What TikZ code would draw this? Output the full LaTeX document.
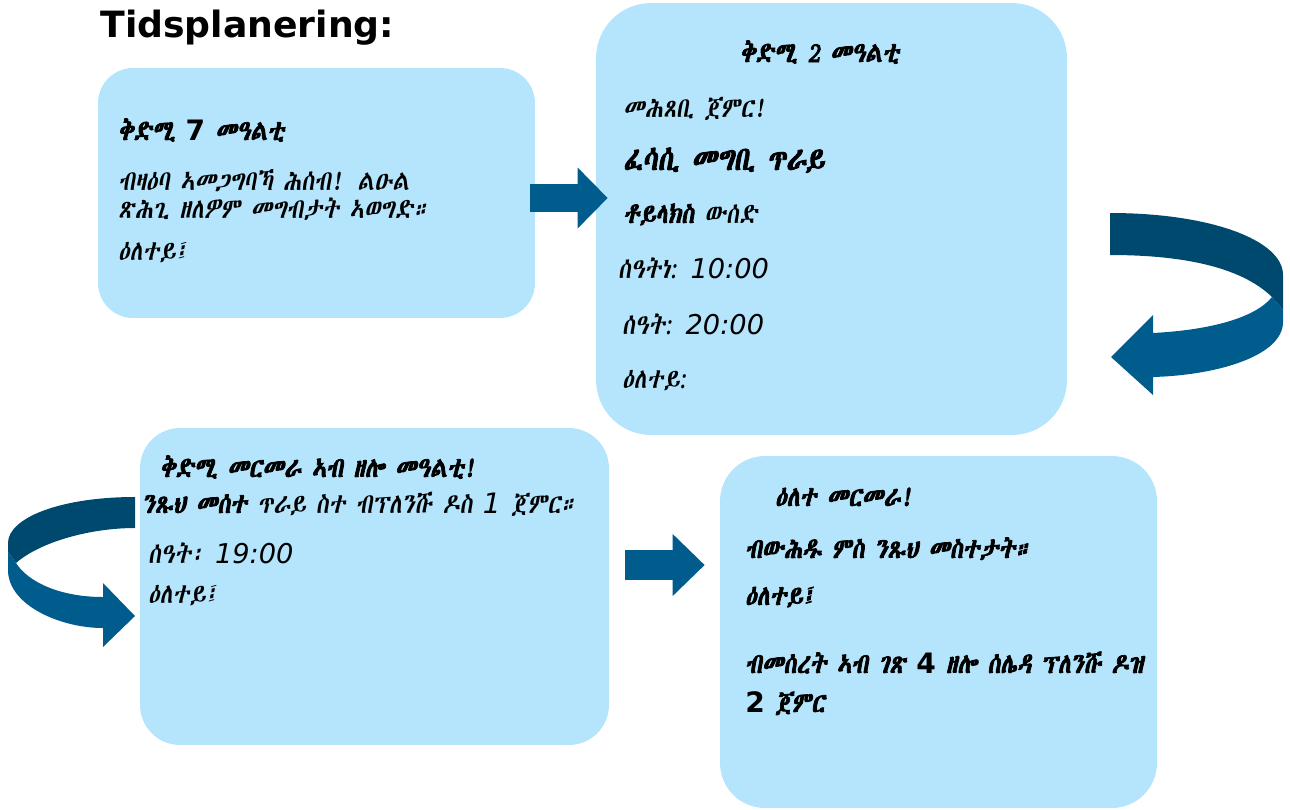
\documentclass[tikz,border=0pt]{standalone}
\usepackage{fontspec}
\usepackage{tikz}
\usetikzlibrary{positioning,calc,arrows.meta}
\setmainfont{DejaVu Sans}
\newfontfamily\vfont{DejaVu Sans}
\IfFontExistsTF{Abyssinica SIL}{%
  \newfontfamily\eth[FakeSlant=0.15, FakeStretch=0.82, BoldFont=*, BoldFeatures={FakeBold=2.5}]{Abyssinica SIL}}{%
  \newfontfamily\eth[FakeSlant=0.15, FakeStretch=0.82, BoldFont=*, BoldFeatures={FakeBold=2.5}]{FreeSerif}}
\definecolor{boxblue}{RGB}{180,229,252}
\definecolor{arrowfront}{RGB}{0,92,140}
\definecolor{arrowback}{RGB}{0,73,110}
\newcommand{\dig}[1]{{\vfont\itshape #1}}
\newcommand{\bdig}[1]{{\vfont\bfseries #1}}

\begin{document}
\begin{tikzpicture}[x=0.02cm, y=-0.02cm,
    box/.style={draw=none, fill=boxblue, rectangle, inner sep=0pt},
    txt/.style={anchor=base west, inner sep=0pt, font=\eth\fontsize{16}{18}\selectfont},
    btxt/.style={txt, font=\eth\bfseries\fontsize{16}{18}\selectfont},
    fatarrow/.style={draw=arrowfront, line width=0.56cm, -{Triangle[length=0.6cm,width=1.18cm]}}
]
    \useasboundingbox (0,0) rectangle (1290,809);

    % Title
    \node [anchor=base west, inner sep=0pt, font=\vfont\bfseries\fontsize{20.6}{24}\selectfont] (title) at (100,37) {Tidsplanering:};

    % Boxes
    \node [box, minimum width=8.74cm, minimum height=5cm, rounded corners=0.7cm] (b1) at (316.5,193) {};
    \node [box, minimum width=9.42cm, minimum height=8.64cm, rounded corners=1.1cm] (b2) at (831.5,219) {};
    \node [box, minimum width=9.38cm, minimum height=6.34cm, rounded corners=0.8cm] (b3) at (374.5,586.5) {};
    \node [box, minimum width=8.74cm, minimum height=7.04cm, rounded corners=0.9cm] (b4) at (938.5,632) {};

    % Box 1 text
    \node [btxt] (t1a) at (118,140) {ቅድሚ \bdig{7} መዓልቲ};
    \node [txt] (t1b) at (118,190) {ብዛዕባ ኣመጋግባኻ ሕሰብ! ልዑል};
    \node [txt] (t1c) at (118,218) {ጽሕጊ ዘለዎም መግብታት ኣወግድ።};
    \node [txt] (t1d) at (118,260) {ዕለተይ፤};

    % Box 2 text
    \node [btxt] (t2a) at (740,62) {ቅድሚ 2 መዓልቲ};
    \node [txt] (t2b) at (623,117) {መሕጸቢ ጀምር!};
    \node [btxt, font=\eth\bfseries\fontsize{19}{22}\selectfont] (t2c) at (623,170) {ፈሳሲ መግቢ ጥራይ};
    \node [txt] (t2d) at (623,223) {\textbf{ቶይላክስ} ውሰድ};
    \node [txt] (t2e) at (618,278) {ሰዓትነ: {\fontsize{15.5}{18}\selectfont\dig{10:00}}};
    \node [txt] (t2f) at (622,334) {ሰዓት: {\fontsize{15.5}{18}\selectfont\dig{20:00}}};
    \node [txt] (t2g) at (622,388) {ዕለተይ:};

    % Box 3 text
    \node [btxt] (t3a) at (160,477) {ቅድሚ መርመራ ኣብ ዘሎ መዓልቲ!};
    \node [txt] (t3b) at (142,513) {\textbf{ንጹህ መሰተ} ጥራይ ስተ ብፕለንሹ ዶስ \dig{1} ጀምር።};
    \node [txt] (t3c) at (148,563) {ሰዓት፡ {\fontsize{15.5}{18}\selectfont\dig{19:00}}};
    \node [txt] (t3d) at (148,603) {ዕለተይ፤};

    % Box 4 text
    \node [btxt] (t4a) at (775,506) {ዕለተ መርመራ!};
    \node [btxt] (t4b) at (745,558) {ብውሕዱ ምስ ንጹህ መስተታት።};
    \node [btxt] (t4c) at (745,605) {ዕለተይ፤};
    \node [btxt] (t4d) at (745,673) {ብመሰረት ኣብ ገጽ \bdig{4} ዘሎ ሰሌዳ ፕለንሹ ዶዝ};
    \node [btxt] (t4e) at (745,712) {\bdig{2} ጀምር};

    % Straight arrows
    \draw [fatarrow] ([shift={(-5,5)}]b1.east) -- ([shift={(12,-21)}]b2.west);
    \draw [fatarrow, line width=0.6cm, -{Triangle[length=0.64cm,width=1.2cm]}] ([shift={(16,-21.5)}]b3.east) -- ([shift={(-15,-67)}]b4.west);

    % Curved arrow right of box 2
    \fill [arrowback] (1110,213) .. controls (1210,213) and (1283,240) .. (1283,275)
        -- (1283,310) -- (1272,297) .. controls (1240,266) and (1180,255) .. (1110,255) -- cycle;
    \fill [arrowfront] (1272,297) -- (1283,310) -- (1283,322)
        .. controls (1283,355) and (1220,375) .. (1153,377)
        -- (1153,395) -- (1111,357) -- (1153,315) -- (1153,333)
        .. controls (1210,330) and (1255,318) .. (1272,297) -- cycle;

    % Curved arrow left of box 3
    \fill [arrowback] (135,497) .. controls (60,497) and (8,518) .. (8,543)
        -- (8,552) -- (16,563) .. controls (40,542) and (90,528) .. (135,528) -- cycle;
    \fill [arrowfront] (16,563) -- (8,552) -- (8,570)
        .. controls (8,605) and (60,628) .. (103,628)
        -- (103,647) -- (135,616) -- (103,583) -- (103,597)
        .. controls (60,597) and (28,582) .. (16,563) -- cycle;
\end{tikzpicture}
\end{document}
